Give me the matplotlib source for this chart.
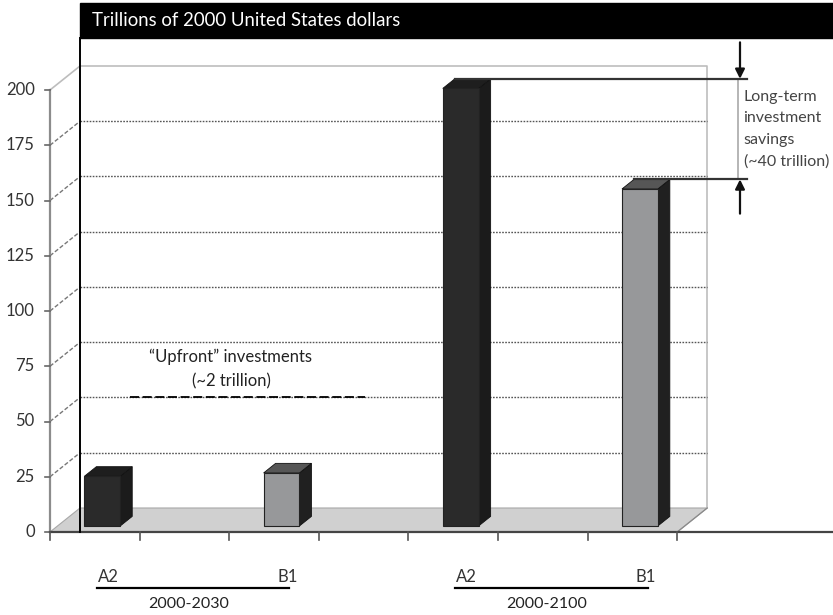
import matplotlib
matplotlib.use("Agg")
import matplotlib.pyplot as plt
from matplotlib.patches import Polygon, Rectangle

# data
periods = ["2000-2030", "2000-2100"]
scenarios = ["A2", "B1", "A2", "B1"]
values = [22.5, 24.0, 198.0, 152.5]
bar_pos = [0.5, 2.5, 4.5, 6.5]
y_ticks = [0, 25, 50, 75, 100, 125, 150, 175, 200]
header = "Trillions of 2000 United States dollars"
upfront_note = "\u201cUpfront\u201d investments\n(~2 trillion)"
savings_note = "Long-term\ninvestment\nsavings\n(~40 trillion)"

front_colors = ["#2a2a2a", "#97989a", "#2a2a2a", "#97989a"]
top_colors = ["#1e1e1e", "#565656", "#1e1e1e", "#565656"]
side_colors = ["#1b1b1b", "#202020", "#1b1b1b", "#202020"]

# fake 3d depth (in data units): back wall is shifted right/up
DX, DY = 0.335, 10.86
N_SLOTS = 7
D0, D1 = 0.25, 0.65   # bar depth range
BAR_W = 0.4

plt.rcParams['font.family'] = ['Lato', 'DejaVu Sans']

fig = plt.figure(figsize=(8.33, 6.15), dpi=100)
ax = fig.add_axes([0, 0, 1, 1])
ax.set_xlim(-50 / 89.6, (833 - 50) / 89.6)
ax.set_ylim(-83 / 2.21, 532 / 2.21)
ax.axis('off')

# header band
ax.add_patch(Rectangle((80 / 833, 577 / 615), 1 - 80 / 833, 35 / 615,
                       transform=ax.transAxes, color='black', zorder=5))
ax.text(92 / 833, 594 / 615, header, transform=ax.transAxes, color='white',
        fontsize=13.4, va='center', ha='left', zorder=6)

ymax = y_ticks[-1]

# floor
ax.add_patch(Polygon([(0, 0), (N_SLOTS, 0), (N_SLOTS + DX, DY), (DX, DY)],
                     closed=True, facecolor='#d0d0d0', edgecolor='#a8a8a8',
                     lw=0.8, zorder=1))

# back wall outline
ax.plot([DX, N_SLOTS + DX, N_SLOTS + DX], [ymax + DY, ymax + DY, DY],
        color='#bdbdbd', lw=1.2, zorder=1)
# side wall top edge
ax.plot([0, DX], [ymax, ymax + DY], color='#bdbdbd', lw=1.2, zorder=1)
ax.plot([N_SLOTS, N_SLOTS + DX], [0, DY], color='#8a8a8a', lw=0.9, zorder=2)

# gridlines on back wall + side wall
for t in y_ticks[1:-1]:
    ax.plot([DX, N_SLOTS + DX], [t + DY, t + DY], color='#555555', lw=1.0,
            ls=(0, (1.2, 1.0)), zorder=1)
    ax.plot([0, DX], [t, t + DY], color='#777777', lw=1.0,
            ls=(0, (3, 1.5)), zorder=1)

# left value axis
ax.plot([0, 0], [0, ymax], color='#8c8c8c', lw=1.6, zorder=3)
for t in y_ticks:
    ax.plot([-0.055, 0], [t, t], color='#666666', lw=1.2, zorder=3)
    ax.text(-0.17, t, str(t), ha='right', va='center', fontsize=12,
            color='#333333')

# category axis
ax.plot([0, ax.get_xlim()[1]], [0, 0], color='#444444', lw=1.6, zorder=4)
for k in range(N_SLOTS + 1):
    ax.plot([k, k], [0, -3.8], color='#555555', lw=1.2, zorder=4)

# black left frame line
ax.plot([DX, DX], [0, (532 - 38) / 2.21], color='black', lw=1.4, zorder=4)

# bars
t = D1 - D0
for pos, v, fc, tc, sc in zip(bar_pos, values, front_colors, top_colors, side_colors):
    x0 = pos - BAR_W / 2 + D0 * DX
    x1 = x0 + BAR_W
    y0 = D0 * DY
    y1 = y0 + v
    ax.add_patch(Polygon([(x1, y0), (x1 + t * DX, y0 + t * DY),
                          (x1 + t * DX, y1 + t * DY), (x1, y1)],
                         closed=True, facecolor=sc, edgecolor='#111111',
                         lw=0.6, zorder=6))
    ax.add_patch(Polygon([(x0, y1), (x1, y1), (x1 + t * DX, y1 + t * DY),
                          (x0 + t * DX, y1 + t * DY)],
                         closed=True, facecolor=tc, edgecolor='#111111',
                         lw=0.6, zorder=6))
    ax.add_patch(Rectangle((x0, y0), BAR_W, v, facecolor=fc,
                           edgecolor='#222222', lw=0.8, zorder=7))

# category labels
for pos, name in zip(bar_pos, scenarios):
    ax.text(pos + 0.15, -20.4, name, ha='center', va='center', fontsize=12,
            color='#333333')
for i, per in enumerate(periods):
    a = bar_pos[2 * i] + 0.025
    b = bar_pos[2 * i + 1] + 0.17
    ax.plot([a, b], [-25.3, -25.3], color='black', lw=1.6)
    ax.text((a + b) / 2 - 0.05, -32.6, per, ha='center', va='center',
            fontsize=11.5, color='#222222')

# upfront annotation
ax.text(2.02, 73.7, upfront_note, ha='center', va='center', fontsize=12,
        color='#222222', linespacing=1.6)
ax.plot([0.89, 3.52], [50 + DY, 50 + DY], color='black', lw=1.3,
        ls=(0, (5, 2)), zorder=2)

# long-term savings annotation
x_arrow = (740 - 50) / 89.6
top_level = values[2] + D1 * DY
low_level = values[3] + D1 * DY
ax.plot([bar_pos[2] - BAR_W / 2 + D1 * DX, x_arrow + 0.08], [top_level, top_level],
        color='#333333', lw=1.6, zorder=8)
ax.plot([bar_pos[3] - BAR_W / 2 + D1 * DX, x_arrow + 0.08], [low_level, low_level],
        color='#333333', lw=1.6, zorder=8)
ax.plot([x_arrow - 0.02, x_arrow - 0.02], [low_level, top_level], color='#b0b0b0',
        lw=1.3, zorder=7)
ax.annotate('', xy=(x_arrow, top_level), xytext=(x_arrow, top_level + 16.5),
            arrowprops=dict(arrowstyle='-|>', color='#111111', lw=1.6,
                            mutation_scale=14, shrinkA=0, shrinkB=0))
ax.annotate('', xy=(x_arrow, low_level), xytext=(x_arrow, low_level - 15.5),
            arrowprops=dict(arrowstyle='-|>', color='#111111', lw=1.6,
                            mutation_scale=14, shrinkA=0, shrinkB=0))
ax.text(x_arrow + 0.04, (top_level + low_level) / 2, savings_note, ha='left',
        va='center', fontsize=11.5, color='#444444', linespacing=1.68)

fig.savefig("out.png", dpi=100)
